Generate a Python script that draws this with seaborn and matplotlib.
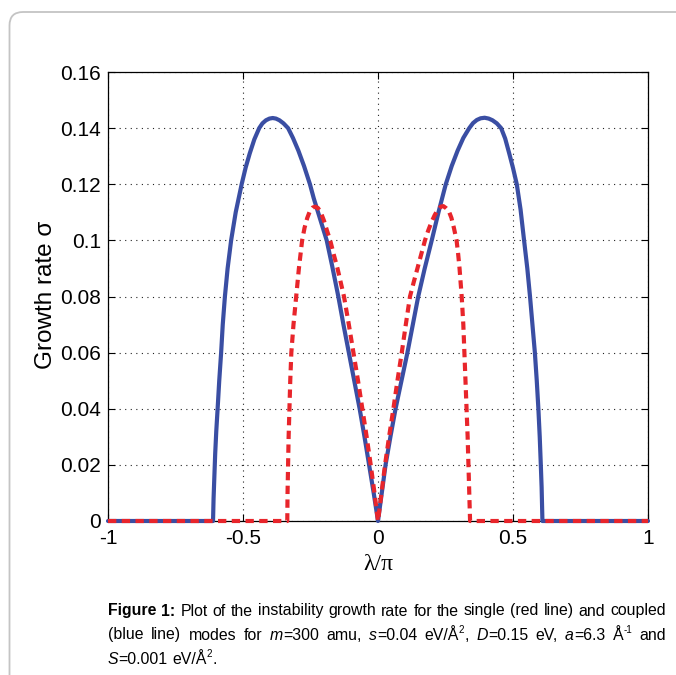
import numpy as np
import pandas as pd
import matplotlib
matplotlib.use("Agg")
import matplotlib.pyplot as plt
import seaborn as sns
from matplotlib import font_manager
from matplotlib.patches import FancyBboxPatch
from matplotlib.ticker import FixedLocator, FixedFormatter

# ---------------- data ----------------
coupled_x = [-1.0, -0.611, -0.609, -0.606, -0.603, -0.599, -0.594, -0.588, -0.581, -0.575,
             -0.567, -0.557, -0.544, -0.527, -0.505, -0.49, -0.475, -0.458, -0.44, -0.428,
             -0.415, -0.402, -0.39, -0.378, -0.365, -0.35, -0.333, -0.315, -0.295, -0.274,
             -0.252, -0.238, -0.222, -0.206, -0.19, -0.17, -0.147, -0.128, -0.108, -0.088,
             -0.068, -0.05, -0.033, -0.016, 0.0,
             0.014, 0.028, 0.046, 0.065, 0.087, 0.109, 0.129, 0.149, 0.173, 0.199,
             0.224, 0.251, 0.273, 0.295, 0.316, 0.338, 0.352, 0.366, 0.38, 0.395,
             0.41, 0.424, 0.44, 0.456, 0.471, 0.486, 0.5, 0.514, 0.528, 0.541,
             0.553, 0.563, 0.572, 0.581, 0.588, 0.594, 0.599, 0.603, 0.606, 0.609, 1.0]
coupled_y = [0.0, 0.0, 0.008, 0.016, 0.024, 0.032, 0.040, 0.050, 0.060, 0.070,
             0.080, 0.090, 0.100, 0.110, 0.120, 0.126, 0.131, 0.136, 0.140, 0.1417,
             0.1428, 0.1434, 0.1436, 0.1434, 0.1428, 0.1417, 0.140, 0.1365, 0.132, 0.1265,
             0.120, 0.115, 0.110, 0.105, 0.100, 0.091, 0.080, 0.070, 0.060, 0.050,
             0.040, 0.030, 0.020, 0.010, 0.0,
             0.010, 0.020, 0.030, 0.040, 0.050, 0.060, 0.070, 0.080, 0.090, 0.100,
             0.110, 0.120, 0.1265, 0.132, 0.1365, 0.140, 0.1418, 0.1429, 0.1435, 0.1437,
             0.1434, 0.1428, 0.1417, 0.140, 0.1363, 0.131, 0.1258, 0.120, 0.111, 0.100,
             0.090, 0.080, 0.070, 0.060, 0.050, 0.040, 0.030, 0.020, 0.012, 0.0, 0.0]

single_x = [-1.0, -0.336, -0.335, -0.333, -0.331, -0.328, -0.325, -0.321, -0.313, -0.303,
            -0.293, -0.281, -0.272, -0.262, -0.252, -0.242, -0.232, -0.222, -0.212, -0.2,
            -0.189, -0.177, -0.164, -0.15, -0.138, -0.126, -0.108, -0.091, -0.074, -0.058,
            -0.042, -0.027, -0.013, 0.0,
            0.013, 0.026, 0.041, 0.057, 0.072, 0.088, 0.103, 0.1185, 0.132, 0.146,
            0.16, 0.174, 0.186, 0.198, 0.21, 0.222, 0.232, 0.242, 0.252, 0.262,
            0.272, 0.281, 0.291, 0.297, 0.302, 0.306, 0.31, 0.316, 0.32, 0.324,
            0.328, 0.332, 0.335, 0.338, 0.341, 1.0]
single_y = [0.0, 0.0, 0.010, 0.020, 0.030, 0.040, 0.050, 0.060, 0.070, 0.080,
            0.090, 0.100, 0.1045, 0.108, 0.1105, 0.1117, 0.112, 0.1115, 0.110, 0.107,
            0.1035, 0.100, 0.095, 0.090, 0.085, 0.080, 0.070, 0.060, 0.050, 0.040,
            0.030, 0.020, 0.010, 0.0,
            0.010, 0.020, 0.030, 0.040, 0.050, 0.060, 0.070, 0.080, 0.085, 0.090,
            0.095, 0.100, 0.1035, 0.1065, 0.109, 0.111, 0.112, 0.1122, 0.1115, 0.1105,
            0.108, 0.1045, 0.100, 0.095, 0.090, 0.085, 0.080, 0.070, 0.060, 0.050,
            0.040, 0.030, 0.020, 0.010, 0.0, 0.0]

x_ticks = [-1, -0.5, 0, 0.5, 1]
x_tick_labels = ["-1", "-0.5", "0", "0.5", "1"]
y_ticks = [0, 0.02, 0.04, 0.06, 0.08, 0.10, 0.12, 0.14, 0.16]
y_tick_labels = ["0", "0.02", "0.04", "0.06", "0.08", "0.1", "0.12", "0.14", "0.16"]

x_label = "λ/π"
y_label = "Growth rate σ"

caption_lines = [
    [("Figure 1:", "b"), (" Plot of the instability growth rate for the single (red line) and coupled", "r")],
    [("(blue line) modes for ", "r"), ("m", "i"), ("=300 amu, ", "r"), ("s", "i"), ("=0.04 eV/Å", "r"),
     ("2", "sup"), (", ", "r"), ("D", "i"), ("=0.15 eV, ", "r"), ("a", "i"), ("=6.3 Å", "r"),
     ("-1", "sup"), (" and", "r")],
    [("S", "i"), ("=0.001 eV/Å", "r"), ("2", "sup"), (".", "r")],
]

# ---------------- style ----------------
sns.set_theme(style="white")
plt.rcParams["font.family"] = ["Liberation Sans", "DejaVu Sans"]
plt.rcParams["axes.unicode_minus"] = False

W, H = 676, 675
fig = plt.figure(figsize=(W / 100, H / 100), dpi=100)
fig.patch.set_facecolor("white")

# outer light-gray rounded frame
frame = FancyBboxPatch((9.5 / W, -0.2), 1.3, 1.2 - 12.0 / H,
                       boxstyle="round,pad=0,rounding_size=0.02",
                       transform=fig.transFigure, facecolor="none",
                       edgecolor="#c4c4c4", linewidth=1.3, clip_on=False)
fig.patches.append(frame)

ax = fig.add_axes([108 / W, 1 - 521 / H, 540 / W, 449 / H])
ax.set_facecolor("white")

df_c = pd.DataFrame({"x": coupled_x, "y": coupled_y})
df_s = pd.DataFrame({"x": single_x, "y": single_y})

sns.lineplot(data=df_c, x="x", y="y", sort=False, estimator=None, ax=ax,
             color="#3a4ea3", linewidth=3.0, clip_on=False, zorder=3)
sns.lineplot(data=df_s, x="x", y="y", sort=False, estimator=None, ax=ax,
             color="#e8252b", linewidth=3.0, linestyle=(0, (2.0, 1.3)),
             clip_on=False, zorder=4)
for ln in ax.lines:
    ln.set_solid_joinstyle("round")
    ln.set_dash_joinstyle("round")

ax.set_xlim(-1, 1)
ax.set_ylim(0, 0.16)
ax.xaxis.set_major_locator(FixedLocator(x_ticks))
ax.xaxis.set_major_formatter(FixedFormatter(x_tick_labels))
ax.yaxis.set_major_locator(FixedLocator(y_ticks))
ax.yaxis.set_major_formatter(FixedFormatter(y_tick_labels))

ax.grid(True, color="#222222", linestyle=(0, (1, 4)), linewidth=0.8)
ax.set_axisbelow(True)
for sp in ax.spines.values():
    sp.set_visible(True)
    sp.set_color("black")
    sp.set_linewidth(0.9)
ax.tick_params(axis="both", which="major", direction="in", length=5, width=0.8,
               colors="black", labelsize=15, top=True, right=True,
               bottom=True, left=True, pad=5)
ax.tick_params(axis="x", pad=6)

ax.set_xlabel(x_label, fontsize=17, family=["Liberation Serif", "DejaVu Serif"], color="black")
ax.set_ylabel(y_label, fontsize=17.5, color="black")
ax.xaxis.set_label_coords(0.5, (521 - 565) / 449)
ax.xaxis.label.set_verticalalignment("center")
ax.yaxis.set_label_coords((46 - 108) / 540, (521 - 295) / 449)
ax.yaxis.label.set_verticalalignment("center")

# ---------------- caption ----------------
def has_font(name):
    try:
        font_manager.findfont(font_manager.FontProperties(family=name), fallback_to_default=False)
        return True
    except Exception:
        return False

cap_family = "Liberation Sans Narrow" if has_font("Liberation Sans Narrow") else "Liberation Sans"

fig.canvas.draw()
renderer = fig.canvas.get_renderer()

def fprops(style, size):
    if style == "b":
        return font_manager.FontProperties(family=cap_family, weight="bold", size=size)
    if style == "i":
        return font_manager.FontProperties(family=cap_family, style="italic", size=size)
    if style == "sup":
        return font_manager.FontProperties(family=cap_family, size=size * 0.62)
    return font_manager.FontProperties(family=cap_family, size=size)

def text_w(s, style, size):
    w, h, d = renderer.get_text_width_height_descent(s, fprops(style, size), ismath=False)
    return w

def words_of(segments):
    words = [[]]
    for text, style in segments:
        parts = text.split(" ")
        for i, p in enumerate(parts):
            if i > 0:
                words.append([])
            if p:
                words[-1].append((p, style))
    return [w for w in words if w]

def word_w(word, size):
    return sum(text_w(p, st, size) for p, st in word)

left_px, right_px = 108.0, 666.0
target = right_px - left_px

base = 10.0
w1 = sum(word_w(w, base) for w in words_of(caption_lines[0]))
sp1 = text_w("a a", "r", base) - text_w("aa", "r", base)
n1 = len(words_of(caption_lines[0]))
cap_size = base * (target - 4) / (w1 + sp1 * (n1 - 1))

baselines = [615.5, 639.5, 663.5]
for li, segs in enumerate(caption_lines):
    words = words_of(segs)
    ws = [word_w(w, cap_size) for w in words]
    space = text_w("a a", "r", cap_size) - text_w("aa", "r", cap_size)
    if li < len(caption_lines) - 1 and len(words) > 1:
        gap = (target - sum(ws)) / (len(words) - 1)
    else:
        gap = space
    x = left_px
    yb = baselines[li]
    for w, wwid in zip(words, ws):
        xx = x
        for p, st in w:
            y = yb - (0.38 * cap_size * 100 / 72 if st == "sup" else 0)
            fig.text(xx / W, 1 - y / H, p, fontproperties=fprops(st, cap_size),
                     ha="left", va="baseline", color="black")
            xx += text_w(p, st, cap_size)
        x += wwid + gap

fig.savefig("out.png", dpi=100, facecolor="white")
